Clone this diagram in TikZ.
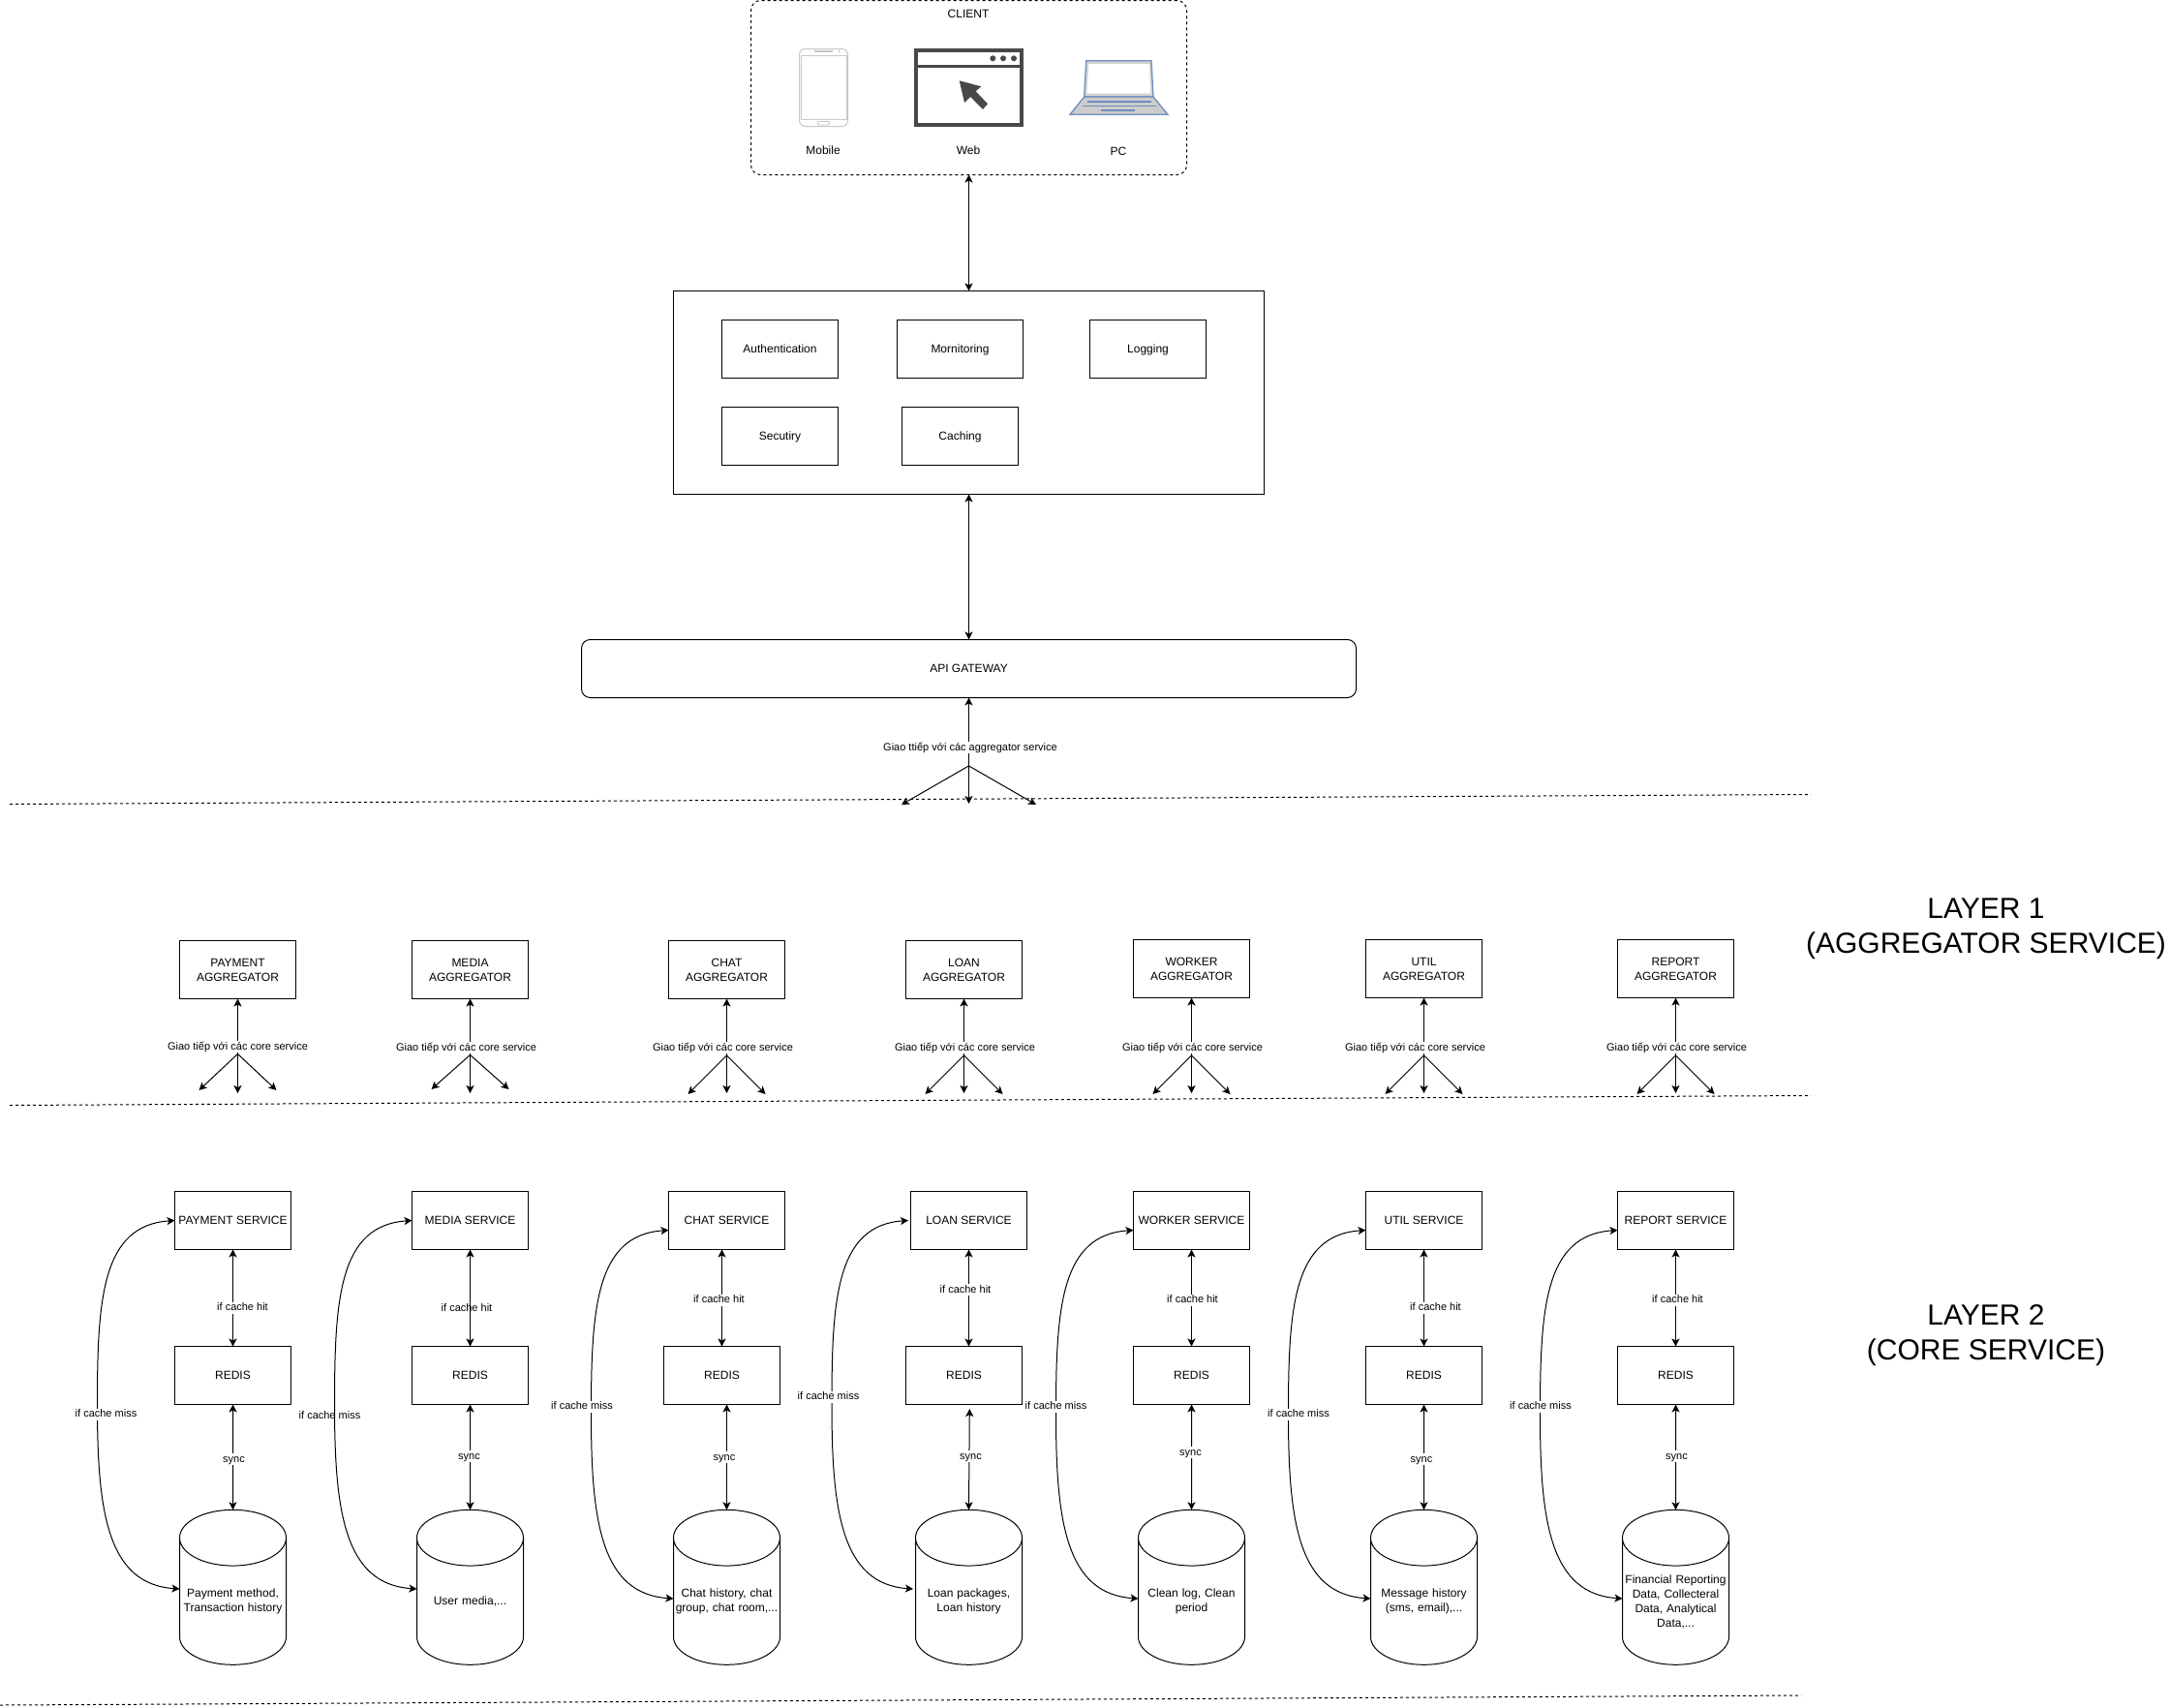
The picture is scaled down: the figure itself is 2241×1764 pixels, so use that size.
\documentclass[tikz,border=0pt]{standalone}
\usepackage{fontspec}
\setmainfont{Liberation Sans}
\usetikzlibrary{shapes.geometric, arrows.meta}
\tikzstyle{svcbox} = [rectangle, minimum width=120pt, minimum height=60pt, text centered, align=center, inner sep=0pt, outer sep=0pt, line width=1pt, draw=black, font=\fontsize{12}{15}\selectfont]
\tikzstyle{oneline} = [text height=10pt, text depth=2.4pt]
\tikzstyle{database} = [cylinder, shape border rotate=90, shape aspect=0.545, minimum width=110pt, minimum height=160pt, text width=106pt, text centered, align=center, inner sep=0pt, outer sep=0pt, line width=1pt, draw=black, font=\fontsize{12}{15}\selectfont]
\tikzstyle{txt} = [inner sep=0pt, align=center, font=\fontsize{12}{15}\selectfont]
\tikzstyle{edgetxt} = [inner sep=1pt, text height=8pt, text depth=2pt, fill=white, font=\fontsize{11}{13}\selectfont]
\tikzstyle{layertxt} = [inner sep=0pt, align=center, font=\fontsize{30}{36}\selectfont]
\tikzstyle{arrow} = [line width=1pt,<->,>={Stealth[length=8pt,width=8pt,inset=2pt]}]
\tikzstyle{uparrow} = [line width=1pt,->,>={Stealth[length=8pt,width=8pt,inset=2pt]}]
\tikzstyle{divider} = [line width=1pt,dash pattern=on 3pt off 3pt]
\definecolor{phonegray}{HTML}{C8C8C8}
\definecolor{webgray}{HTML}{484848}
\definecolor{pcblue}{HTML}{6C8EBF}
\begin{document}
\begin{tikzpicture}[x=1pt, y=-1pt, node distance=160pt]
\useasboundingbox (0,0) rectangle (2241,1764);

%% DIVIDERS

\draw [divider] (10,830.5) -- (1870,820.5);
\draw [divider] (10,1141.5) -- (1870,1131.5);
\draw [divider] (0,1761) -- (1860,1751);

%% CLIENT

\node (client) [svcbox, dashed, rounded corners=10pt, minimum width=450pt, minimum height=180pt] at (1000.5,90.5) {};
\node (client_label) [txt] at (1000,14) {CLIENT};
\node (mobile_label) [txt] at (850,155) {Mobile};
\node (web_label) [txt] at (1000,155) {Web};
\node (pc_label) [txt] at (1155,156) {PC};

% mobile icon
\draw [phonegray, line width=1pt, rounded corners=6pt] (825.5,50.5) rectangle (875.5,130.5);
\draw [phonegray, line width=0.8pt] (827.5,57.5) rectangle (874,123.5);
\draw [phonegray, line width=0.8pt, rounded corners=1pt] (844.5,125.5) rectangle (856.5,129);
\draw [phonegray, line width=1.5pt] (841,52.8) -- (860,52.8);
\fill [phonegray] (866.7,53) circle (1.2pt);

% web icon
\draw [webgray, line width=3.4pt] (946,52) rectangle (1055,129);
\draw [webgray, line width=3.4pt] (946,68.3) -- (1055,68.3);
\fill [webgray] (1025.3,60.3) circle (3pt);
\fill [webgray] (1036,60.3) circle (3pt);
\fill [webgray] (1047,60.3) circle (3pt);
\fill [webgray] (990.7,83.3) -- (1013.3,89.3) -- (1007.7,94.3) -- (1020,107.3) -- (1015,113) -- (1002.3,100) -- (996,106) -- cycle;

% pc icon
\draw [pcblue, line width=1.3pt, fill=phonegray!80] (1121.7,62.7) -- (1189,62.7) -- (1191,100) -- (1119.7,100) -- cycle;
\fill [white] (1124.3,66) -- (1187,66) -- (1188.3,96.7) -- (1122.3,96.7) -- cycle;
\draw [pcblue, line width=1.3pt, fill=black!20] (1119.7,100) -- (1191,100) -- (1206,118.3) -- (1105,118.3) -- cycle;
\draw [pcblue, line width=1.3pt] (1122.7,105) -- (1189.3,105);
\draw [pcblue, line width=1.3pt] (1118.3,109.7) -- (1194,109.7);
\draw [pcblue, line width=1.6pt] (1137.3,114) -- (1171.7,114);

%% MIDDLE BOX

\node (middleware) [svcbox, minimum width=610pt, minimum height=210pt] at (1000.5,405.5) {};
\node (auth) [svcbox, oneline] at (805.5,360.5) {Authentication};
\node (monitor) [svcbox, oneline, minimum width=130pt] at (991.5,360.5) {Mornitoring};
\node (logging) [svcbox, oneline] at (1185.5,360.5) {Logging};
\node (security) [svcbox, oneline] at (805.5,450.5) {Secutiry};
\node (caching) [svcbox, oneline] at (991.5,450.5) {Caching};
\node (gateway) [svcbox, oneline, rounded corners=9pt, minimum width=800pt] at (1000.5,690.5) {API GATEWAY};

\coordinate (gw_fan) at (1000.5,791);
\coordinate (gw_left) at (931,831);
\coordinate (gw_down) at (1000.5,830);
\coordinate (gw_right) at (1070,831);

%% AGGREGATORS

\node (pay_agg) [svcbox] at (245.5,1001.5) {PAYMENT\\AGGREGATOR};
\node (media_agg) [svcbox] at (485.5,1001.5) {MEDIA\\AGGREGATOR};
\node (chat_agg) [svcbox] at (750.5,1001.5) {CHAT\\AGGREGATOR};
\node (loan_agg) [svcbox] at (995.5,1001.5) {LOAN\\AGGREGATOR};
\node (worker_agg) [svcbox] at (1230.5,1000.5) {WORKER\\AGGREGATOR};
\node (util_agg) [svcbox] at (1470.5,1000.5) {UTIL\\AGGREGATOR};
\node (report_agg) [svcbox] at (1730.5,1000.5) {REPORT\\AGGREGATOR};

\coordinate (pay_fan) at (245.5,1088.5);
\coordinate (pay_left) at (205.5,1126);
\coordinate (pay_down) at (245.5,1129);
\coordinate (pay_right) at (285.5,1126);
\coordinate (media_fan) at (485.5,1089.5);
\coordinate (media_left) at (445.5,1125);
\coordinate (media_down) at (485.5,1129);
\coordinate (media_right) at (525.5,1125);
\coordinate (chat_fan) at (750.5,1090);
\coordinate (chat_left) at (710.5,1130);
\coordinate (chat_down) at (750.5,1129);
\coordinate (chat_right) at (790.5,1130);
\coordinate (loan_fan) at (995.5,1090);
\coordinate (loan_left) at (955.5,1130);
\coordinate (loan_down) at (995.5,1129);
\coordinate (loan_right) at (1035.5,1130);
\coordinate (worker_fan) at (1230.5,1090);
\coordinate (worker_left) at (1190.5,1130);
\coordinate (worker_down) at (1230.5,1129);
\coordinate (worker_right) at (1270.5,1130);
\coordinate (util_fan) at (1470.5,1090);
\coordinate (util_left) at (1430.5,1130);
\coordinate (util_down) at (1470.5,1129);
\coordinate (util_right) at (1510.5,1130);
\coordinate (report_fan) at (1730.5,1090);
\coordinate (report_left) at (1690.5,1130);
\coordinate (report_down) at (1730.5,1129);
\coordinate (report_right) at (1770.5,1130);

%% SERVICES

\node (pay_svc) [svcbox, oneline] at (240.5,1260.5) {PAYMENT SERVICE};
\node (pay_redis) [svcbox, oneline, below of=pay_svc] {REDIS};
\node (pay_db) [database, below of=pay_redis, node distance=233.5pt] {Payment method,\\Transaction history};

\node (media_svc) [svcbox, oneline] at (485.5,1260.5) {MEDIA SERVICE};
\node (media_redis) [svcbox, oneline, below of=media_svc] {REDIS};
\node (media_db) [database, below of=media_redis, node distance=233.5pt] {User media,...};

\node (chat_svc) [svcbox, oneline] at (750.5,1260.5) {CHAT SERVICE};
\node (chat_redis) [svcbox, oneline] at (745.5,1420.5) {REDIS};
\node (chat_db) [database] at (750.5,1654) {Chat history, chat\\group, chat room,...};

\node (loan_svc) [svcbox, oneline] at (1000.5,1260.5) {LOAN SERVICE};
\node (loan_redis) [svcbox, oneline] at (995.5,1420.5) {REDIS};
\node (loan_db) [database] at (1000.5,1654) {Loan packages,\\Loan history};
\coordinate (loan_sync) at (1001.3,1455);

\node (worker_svc) [svcbox, oneline] at (1230.5,1260.5) {WORKER SERVICE};
\node (worker_redis) [svcbox, oneline, below of=worker_svc] {REDIS};
\node (worker_db) [database, below of=worker_redis, node distance=233.5pt] {Clean log, Clean\\period};

\node (util_svc) [svcbox, oneline] at (1470.5,1260.5) {UTIL SERVICE};
\node (util_redis) [svcbox, oneline, below of=util_svc] {REDIS};
\node (util_db) [database, below of=util_redis, node distance=233.5pt] {Message history\\(sms, email),...};

\node (report_svc) [svcbox, oneline] at (1730.5,1260.5) {REPORT SERVICE};
\node (report_redis) [svcbox, oneline, below of=report_svc] {REDIS};
\node (report_db) [database, below of=report_redis, node distance=233.5pt] {Financial Reporting\\Data, Collecteral\\Data, Analytical\\Data,...};

\node (layer_one) [layertxt] at (2051,959.5) {LAYER 1\\(AGGREGATOR SERVICE)};
\node (layer_two) [layertxt] at (2051,1379) {LAYER 2\\(CORE SERVICE)};

%% ARROWS

\draw [arrow] (client.south) -- (middleware.north);
\draw [arrow] (middleware.south) -- (gateway.north);

\draw [uparrow] (gw_fan) -- (gateway.south);
\draw [uparrow] (gw_fan) -- (gw_left);
\draw [uparrow] (gw_fan) -- (gw_down);
\draw [uparrow] (gw_fan) -- (gw_right);
\node (gw_txt) [edgetxt] at (1002,772) {Giao ttiếp với các aggregator service};

\draw [uparrow] (pay_fan) -- (pay_agg.south);
\draw [uparrow] (pay_fan) -- (pay_left);
\draw [uparrow] (pay_fan) -- (pay_down);
\draw [uparrow] (pay_fan) -- (pay_right);
\node (pay_txt) [edgetxt] at (245.5,1081) {Giao tiếp với các core service};

\draw [uparrow] (media_fan) -- (media_agg.south);
\draw [uparrow] (media_fan) -- (media_left);
\draw [uparrow] (media_fan) -- (media_down);
\draw [uparrow] (media_fan) -- (media_right);
\node (media_txt) [edgetxt] at (481.5,1082) {Giao tiếp với các core service};

\draw [uparrow] (chat_fan) -- (chat_agg.south);
\draw [uparrow] (chat_fan) -- (chat_left);
\draw [uparrow] (chat_fan) -- (chat_down);
\draw [uparrow] (chat_fan) -- (chat_right);
\node (chat_txt) [edgetxt] at (746.5,1082) {Giao tiếp với các core service};

\draw [uparrow] (loan_fan) -- (loan_agg.south);
\draw [uparrow] (loan_fan) -- (loan_left);
\draw [uparrow] (loan_fan) -- (loan_down);
\draw [uparrow] (loan_fan) -- (loan_right);
\node (loan_txt) [edgetxt] at (996.5,1082) {Giao tiếp với các core service};

\draw [uparrow] (worker_fan) -- (worker_agg.south);
\draw [uparrow] (worker_fan) -- (worker_left);
\draw [uparrow] (worker_fan) -- (worker_down);
\draw [uparrow] (worker_fan) -- (worker_right);
\node (worker_txt) [edgetxt] at (1231.5,1082) {Giao tiếp với các core service};

\draw [uparrow] (util_fan) -- (util_agg.south);
\draw [uparrow] (util_fan) -- (util_left);
\draw [uparrow] (util_fan) -- (util_down);
\draw [uparrow] (util_fan) -- (util_right);
\node (util_txt) [edgetxt] at (1461.5,1082) {Giao tiếp với các core service};

\draw [uparrow] (report_fan) -- (report_agg.south);
\draw [uparrow] (report_fan) -- (report_left);
\draw [uparrow] (report_fan) -- (report_down);
\draw [uparrow] (report_fan) -- (report_right);
\node (report_txt) [edgetxt] at (1731.5,1082) {Giao tiếp với các core service};

\draw [arrow] (pay_svc.south) -- (pay_redis.north);
\draw [arrow] (pay_redis.south) -- (pay_db.north);
\draw [arrow] (pay_svc.west) .. controls (105.5,1265.5) and (100.5,1340.5) .. (100.5,1450.5) .. controls (100.5,1560.5) and (110.5,1636) .. ([yshift=13pt]pay_db.west);
\node (pay_hit) [edgetxt] at (250.5,1350.5) {if cache hit};
\node (pay_sync) [edgetxt] at (241.5,1507) {sync};
\node (pay_miss) [edgetxt] at (109.5,1460.5) {if cache miss};

\draw [arrow] (media_svc.south) -- (media_redis.north);
\draw [arrow] (media_redis.south) -- (media_db.north);
\draw [arrow] (media_svc.west) .. controls (350.5,1265.5) and (345.5,1340.5) .. (345.5,1450.5) .. controls (345.5,1560.5) and (355.5,1636) .. ([yshift=13pt]media_db.west);
\node (media_hit) [edgetxt, fill=none] at (482,1351.5) {if cache hit};
\node (media_sync) [edgetxt] at (484.5,1504) {sync};
\node (media_miss) [edgetxt, fill=none] at (340.5,1462.5) {if cache miss};

\draw [arrow] (chat_redis.north |- chat_svc.south) -- (chat_redis.north);
\draw [arrow] (chat_db.north |- chat_redis.south) -- (chat_db.north);
\draw [arrow] ([yshift=-10pt]chat_svc.west) .. controls (615.5,1275.5) and (610.5,1350.5) .. (610.5,1460.5) .. controls (610.5,1570.5) and (620.5,1646) .. ([yshift=3pt]chat_db.west);
\node (chat_hit) [edgetxt] at (742.5,1342.5) {if cache hit};
\node (chat_sync) [edgetxt] at (748,1505) {sync};
\node (chat_miss) [edgetxt] at (601,1452.5) {if cache miss};

\draw [arrow] (loan_svc.south) -- (loan_svc.south |- loan_redis.north);
\draw [arrow] (loan_sync) -- (loan_db.north);
\draw [arrow] ([xshift=-2.5pt]loan_svc.west) .. controls (864,1265.5) and (859,1340.5) .. (859,1450.5) .. controls (859,1560.5) and (869,1636) .. ([xshift=-2.5pt,yshift=13pt]loan_db.west);
\node (loan_hit) [edgetxt] at (997,1332) {if cache hit};
\node (loan_sync_txt) [edgetxt] at (1002.5,1504) {sync};
\node (loan_miss) [edgetxt] at (855.5,1442.5) {if cache miss};

\draw [arrow] (worker_svc.south) -- (worker_redis.north);
\draw [arrow] (worker_redis.south) -- (worker_db.north);
\draw [arrow] ([yshift=-10pt]worker_svc.west) .. controls (1095.5,1275.5) and (1090.5,1350.5) .. (1090.5,1460.5) .. controls (1090.5,1570.5) and (1100.5,1646) .. ([yshift=3pt]worker_db.west);
\node (worker_hit) [edgetxt] at (1231.5,1342.5) {if cache hit};
\node (worker_sync) [edgetxt] at (1229.5,1500) {sync};
\node (worker_miss) [edgetxt] at (1090.5,1452.5) {if cache miss};

\draw [arrow] (util_svc.south) -- (util_redis.north);
\draw [arrow] (util_redis.south) -- (util_db.north);
\draw [arrow] ([yshift=-10pt]util_svc.west) .. controls (1335.5,1275.5) and (1330.5,1350.5) .. (1330.5,1460.5) .. controls (1330.5,1570.5) and (1340.5,1646) .. ([yshift=3pt]util_db.west);
\node (util_hit) [edgetxt] at (1482.5,1350.5) {if cache hit};
\node (util_sync) [edgetxt] at (1468,1507) {sync};
\node (util_miss) [edgetxt] at (1341,1460.5) {if cache miss};

\draw [arrow] (report_svc.south) -- (report_redis.north);
\draw [arrow] (report_redis.south) -- (report_db.north);
\draw [arrow] ([yshift=-10pt]report_svc.west) .. controls (1595.5,1275.5) and (1590.5,1350.5) .. (1590.5,1460.5) .. controls (1590.5,1570.5) and (1600.5,1646) .. ([yshift=3pt]report_db.west);
\node (report_hit) [edgetxt] at (1732.5,1342.5) {if cache hit};
\node (report_sync) [edgetxt] at (1731.5,1504) {sync};
\node (report_miss) [edgetxt] at (1591,1452.5) {if cache miss};

\end{tikzpicture}
\end{document}
